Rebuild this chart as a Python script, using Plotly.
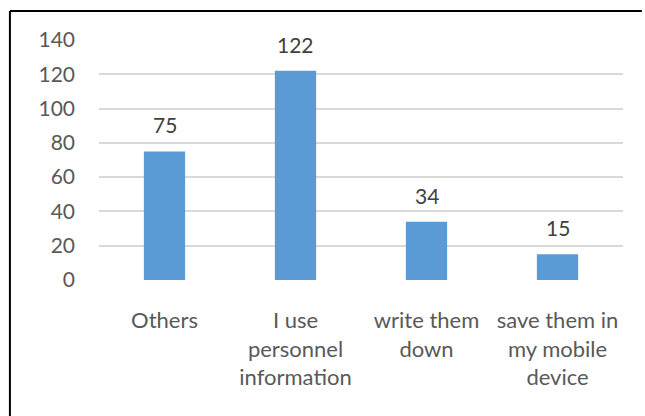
import plotly.graph_objects as go

categories = ["Others", "I use<br>personnel<br>information", "write them<br>down", "save them in<br>my mobile<br>device"]
values = [75, 122, 34, 15]
y_ticks = [0, 20, 40, 60, 80, 100, 120, 140]

FONT = "Lato"
BAR = "#5B9BD5"

fig = go.Figure()
fig.add_trace(go.Bar(
    x=categories,
    y=values,
    marker=dict(color=BAR, line=dict(width=0)),
    width=0.315,
    hoverinfo="x+y",
))

for c, v in zip(categories, values):
    fig.add_annotation(
        x=c, y=v, text=str(v), showarrow=False,
        yanchor="bottom", yshift=12,
        font=dict(family=FONT, size=21, color="#404040"),
    )

# chart-area frame: left and top edges
frame = dict(color="black", width=2)
fig.update_layout(
    width=645, height=416,
    margin=dict(l=99, r=22, t=40, b=136),
    paper_bgcolor="white", plot_bgcolor="white",
    showlegend=False,
    font=dict(family=FONT, size=21, color="#595959"),
    xaxis=dict(
        showgrid=False, zeroline=False, showline=False,
        ticks="", ticklabelstandoff=25,
        tickfont=dict(family=FONT, size=22, color="#595959"),
    ),
    yaxis=dict(
        range=[0, 140], tickvals=y_ticks,
        showgrid=True, gridcolor="#D9D9D9", gridwidth=1.5,
        zeroline=False, showline=False, ticks="",
        ticklabelstandoff=23,
        tickfont=dict(family=FONT, size=21, color="#595959"),
    ),
    shapes=[
        dict(type="line", xref="paper", yref="paper",
             x0=-0.17, x1=-0.17, y0=1.121, y1=-0.6, line=frame, layer="above"),
        dict(type="line", xref="paper", yref="paper",
             x0=-0.17, x1=1.036, y0=1.121, y1=1.121, line=frame, layer="above"),
    ],
)

fig.write_html("out.html")
